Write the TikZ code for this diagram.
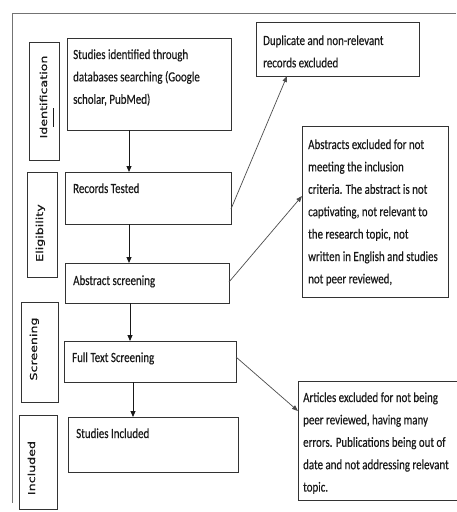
\documentclass[tikz,border=0pt]{standalone}
\usepackage{fontspec}
\setmainfont{Carlito}
\newfontfamily\boxfont[FakeStretch=0.78,FakeBold=0.4]{Carlito}
\newfontfamily\labfont[FakeStretch=1.33,FakeBold=0.8]{DejaVu Sans}
\usetikzlibrary{arrows.meta}
\definecolor{boxc}{gray}{0.2}
\definecolor{framec}{gray}{0.45}
\definecolor{txtc}{gray}{0.1}
\definecolor{darrc}{gray}{0.3}
\newcommand{\tx}[1]{\parbox[t]{220pt}{\raggedright #1}}
\begin{document}
\begin{tikzpicture}[x=1pt,y=-1pt,
 box/.style={draw=boxc, line width=0.9pt, inner sep=0pt, outer sep=0pt, anchor=north west},
 txt/.style={inner sep=0pt, anchor=base west, font=\boxfont\fontsize{14}{22.4}\selectfont, text=txtc},
 lab/.style={inner sep=0pt, anchor=base, rotate=90, font=\labfont\fontsize{9.5}{11}\selectfont, text=txtc},
 arr/.style={-{Triangle[length=6pt,width=5pt]}, line width=1pt, draw=txtc},
 darr/.style={-{Triangle[length=6pt,width=4.5pt]}, line width=0.7pt, draw=darrc}]
\useasboundingbox (0,0) rectangle (457,512);
% frame
\draw[framec, line width=1pt] (456,13) -- (12,13) -- (12,503);
% label boxes
\node[box, minimum width=30pt, minimum height=118pt] (idb) at (29,42) {};
\node[box, minimum width=30pt, minimum height=105pt] (elb) at (27,172) {};
\node[box, minimum width=37pt, minimum height=100pt] (scb) at (21,302) {};
\node[box, minimum width=38pt, minimum height=94pt] (inb) at (19,415) {};
\node[lab] (idt) at (47,97) {Identification};
\draw[line width=0.6pt, txtc] (53,108) -- (53,127);
\node[lab] (elt) at (43,233) {Eligibility};
\node[lab] (sct) at (37,349) {Screening};
\node[lab] (int) at (35,468) {Included};
% main boxes
\node[box, minimum width=164pt, minimum height=92pt] (b1) at (67,38) {};
\node[box, minimum width=166pt, minimum height=52pt] (rec) at (65,172) {};
\node[box, minimum width=164pt, minimum height=40pt] (abs) at (65,263) {};
\node[box, minimum width=172pt, minimum height=41pt] (full) at (64,341) {};
\node[box, minimum width=170pt, minimum height=55pt] (inc) at (68,417) {};
\node[box, minimum width=163pt, minimum height=54pt] (dup) at (256,22) {};
\node[box, minimum width=146pt, minimum height=171pt] (absx) at (302,126) {};
\node[box, minimum width=161pt, minimum height=119pt] (art) at (298,381) {};
% texts
\node[txt] (t1) at (73,59) {\tx{Studies identified through\\databases searching (Google\\scholar, PubMed)}};
\node[txt] (t2) at (73,193) {\tx{Records Tested}};
\node[txt] (t3) at (73,285) {\tx{Abstract screening}};
\node[txt] (t4) at (72,362) {\tx{Full Text Screening}};
\node[txt] (t5) at (76,438) {\tx{Studies Included}};
\node[txt] (t6) at (263,45) {\tx{Duplicate and non-relevant\\records excluded}};
\node[txt] (t7) at (308,149) {\tx{Abstracts excluded for not\\meeting the inclusion\\criteria. The abstract is not\\captivating, not relevant to\\the research topic, not\\written in English and studies\\not peer reviewed,}};
\node[txt] (t8) at (303,402) {\tx{Articles excluded for not being\\peer reviewed, having many\\errors. Publications being out of\\date and not addressing relevant\\topic.}};
% helper coordinates
\coordinate (xa) at (129,0);
\coordinate (xb) at (130,0);
\coordinate (xc) at (133,0);
\coordinate (xd) at (287,0);
\coordinate (ya) at (0,209);
\coordinate (yb) at (0,282);
\coordinate (yc) at (0,196);
\coordinate (yd) at (0,357);
\coordinate (ye) at (0,411);
% arrows
\draw[arr] (b1.south -| xa) -- (rec.north -| xa);
\draw[arr] (rec.south -| xa) -- (abs.north -| xa);
\draw[arr] (abs.south -| xb) -- (full.north -| xb);
\draw[arr] (full.south -| xc) -- (inc.north -| xc);
\draw[darr] (rec.east |- ya) -- (dup.south -| xd);
\draw[darr] (abs.east |- yb) -- (absx.west |- yc);
\draw[darr] (full.east |- yd) -- (art.west |- ye);
\end{tikzpicture}
\end{document}
